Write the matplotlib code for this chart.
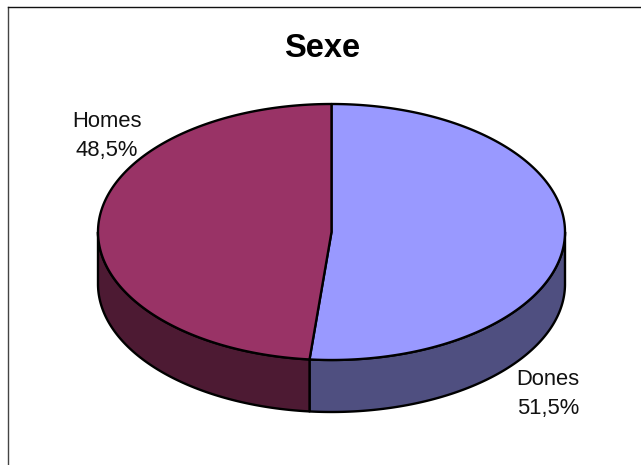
import numpy as np
import matplotlib.pyplot as plt

plt.rcParams["font.family"] = ["Liberation Sans", "DejaVu Sans"]

labels = ["Dones", "Homes"]
shares = [51.5, 48.5]
top_colors = ["#9999FF", "#993366"]
side_colors = ["#4F4F80", "#4D1A33"]

W, H = 641, 465
cx, cy = 331.5, 232
a, b = 233.5, 128
depth = 52
label_pos = [(548, 394), (107, 135.5)]


def rim(t):
    # t in degrees, clockwise from the top of the pie
    r = np.radians(t)
    return cx + a * np.sin(r), cy - b * np.cos(r)


fig = plt.figure(figsize=(W / 100, H / 100), dpi=100)
ax = fig.add_axes([0, 0, 1, 1])
ax.set_xlim(0, W)
ax.set_ylim(H, 0)
ax.axis("off")

# chart frame, open at the right and the bottom
ax.plot([8, 8], [H, 7], color="#444444", lw=1.0)
ax.plot([8, W], [7, 7], color="#111111", lw=1.0)

start = 0
for share, top, side, label, pos in zip(shares, top_colors, side_colors, labels, label_pos):
    end = start + share * 3.6
    t = np.linspace(start, end, 200)

    # side wall, only the front half of the rim shows
    lo, hi = max(start, 90), min(end, 270)
    if hi > lo:
        ts = np.linspace(lo, hi, 200)
        x, y = rim(ts)
        ax.fill(np.r_[x, x[::-1]], np.r_[y, y[::-1] + depth],
                facecolor=side, edgecolor="black", lw=1.7, joinstyle="round", zorder=2)

    x, y = rim(t)
    ax.fill(np.r_[cx, x], np.r_[cy, y], facecolor=top, edgecolor="black",
            lw=1.7, joinstyle="round", zorder=3)

    ax.text(pos[0], pos[1], f"{label}\n{share:.1f}%".replace(".", ","), ha="center",
            va="center", fontsize=15.8, linespacing=1.5, color="#111111", zorder=4)
    start = end

ax.text(322, 48.5, "Sexe", ha="center", va="center", fontsize=23.5, fontweight="bold", color="black")

fig.savefig("out.png", dpi=100)
